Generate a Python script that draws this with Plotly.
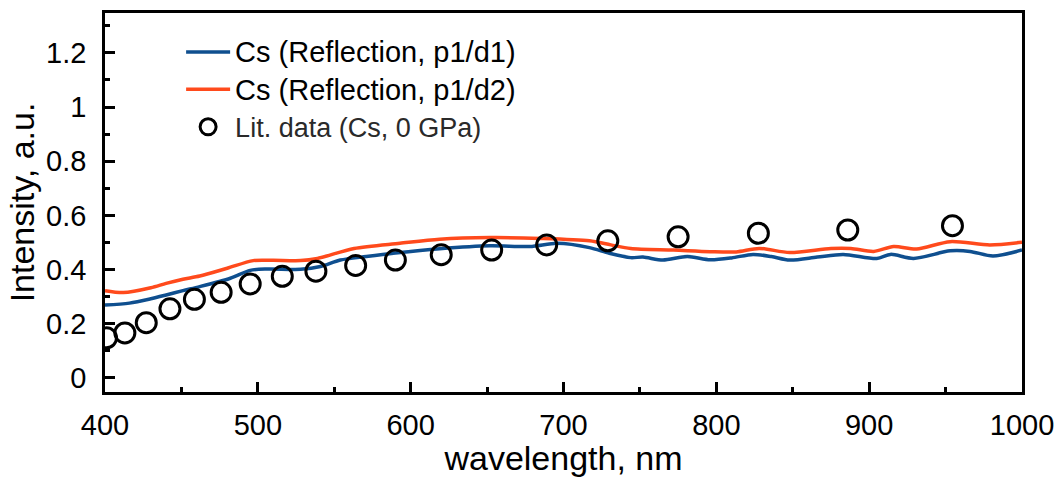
import plotly.graph_objects as go

# Blue: Cs (Reflection, p1/d1)
wl_d1 = [400, 416, 430, 440, 451, 462, 482, 495, 506, 528, 541, 554, 571, 590, 619, 652, 678, 696,
         717, 730, 744, 752, 765, 781, 796, 810, 824, 836, 848, 866, 883, 905, 914, 929, 953, 966, 981, 1000]
int_d1 = [0.269, 0.276, 0.292, 0.306, 0.322, 0.337, 0.368, 0.397, 0.402, 0.401, 0.411, 0.435, 0.448,
          0.461, 0.477, 0.488, 0.485, 0.497, 0.481, 0.460, 0.444, 0.446, 0.435, 0.448, 0.436, 0.443,
          0.456, 0.448, 0.435, 0.446, 0.456, 0.441, 0.456, 0.441, 0.469, 0.467, 0.450, 0.472]

# Orange: Cs (Reflection, p1/d2)
wl_d2 = [400, 412, 430, 440, 451, 462, 480, 497, 510, 528, 539, 563, 593, 619, 652, 685, 717, 731,
         744, 772, 796, 813, 828, 848, 875, 888, 903, 916, 931, 953, 979, 1000]
int_d2 = [0.322, 0.315, 0.333, 0.349, 0.364, 0.376, 0.405, 0.433, 0.434, 0.433, 0.441, 0.478, 0.497,
          0.512, 0.518, 0.515, 0.506, 0.491, 0.478, 0.472, 0.466, 0.465, 0.478, 0.463, 0.478, 0.478,
          0.467, 0.485, 0.476, 0.503, 0.491, 0.501]

# Literature data (Cs, 0 GPa)
wl_lit = [401, 413, 427, 442.5, 458.5, 476, 495, 516, 538, 564, 590, 620, 653, 689, 729, 775, 827.5, 886, 954.5]
int_lit = [0.148, 0.166, 0.204, 0.255, 0.290, 0.316, 0.347, 0.375, 0.394, 0.415, 0.435, 0.455, 0.472,
           0.491, 0.506, 0.521, 0.534, 0.546, 0.562]

x_ticks = [400, 500, 600, 700, 800, 900, 1000]
y_ticks = [0, 0.2, 0.4, 0.6, 0.8, 1.0, 1.2]
y_tick_text = ["0", "0.2", "0.4", "0.6", "0.8", "1", "1.2"]

FONT = "Liberation Sans, Arial, sans-serif"

fig = go.Figure()
fig.add_trace(go.Scatter(x=wl_d1, y=int_d1, mode="lines",
                         name='<span style="font-size:29px">Cs (Reflection, p1/d1)</span>',
                         line=dict(color="#0f4f8f", width=3.5, shape="spline", smoothing=0.8)))
fig.add_trace(go.Scatter(x=wl_d2, y=int_d2, mode="lines",
                         name='<span style="font-size:29px">Cs (Reflection, p1/d2)</span>',
                         line=dict(color="#ff4a1c", width=3.5, shape="spline", smoothing=0.8)))
fig.add_trace(go.Scatter(x=wl_lit, y=int_lit, mode="markers",
                         name='<span style="font-size:27px;color:#2a2a2a">Lit. data (Cs, 0 GPa)</span>',
                         marker=dict(symbol="circle-open", size=20, color="black",
                                     line=dict(width=3, color="black"))))

fig.update_layout(
    width=1059, height=477,
    margin=dict(l=105, r=37, t=13, b=85),
    paper_bgcolor="white", plot_bgcolor="white",
    font=dict(family=FONT, size=29, color="black"),
    showlegend=True,
    legend=dict(x=0.083, y=0.96, xanchor="left", yanchor="top", itemwidth=44,
                bgcolor="rgba(0,0,0,0)", font=dict(size=26.5, family=FONT, color="black"),
                tracegroupgap=0),
)
fig.update_xaxes(
    range=[400, 1000], tickvals=x_ticks, ticks="inside", ticklen=10, tickwidth=2.5,
    tickcolor="black", showline=True, linewidth=2.5, linecolor="black", mirror=True,
    showgrid=False, zeroline=False, ticklabelstandoff=5, automargin=False,
    minor=dict(ticks="inside", ticklen=5, tickwidth=2.5, tickcolor="black", dtick=50, showgrid=False),
    title=dict(text="wavelength, nm", font=dict(size=34, family=FONT), standoff=8),
    tickfont=dict(size=29, family=FONT),
)
fig.update_yaxes(
    range=[-0.052, 1.347], tickvals=y_ticks, ticktext=y_tick_text, ticks="inside", ticklen=10,
    tickwidth=2.5, tickcolor="black", showline=True, linewidth=2.5, linecolor="black", mirror=True,
    showgrid=False, zeroline=False, ticklabelstandoff=10, automargin=False,
    minor=dict(ticks="inside", ticklen=5, tickwidth=2.5, tickcolor="black",
               tickvals=[0.1, 0.3, 0.5, 0.7, 0.9, 1.1, 1.3], showgrid=False),
    title=dict(text="Intensity, a.u.", font=dict(size=34, family=FONT), standoff=2),
    tickfont=dict(size=29, family=FONT),
)

fig.write_html("out.html")
